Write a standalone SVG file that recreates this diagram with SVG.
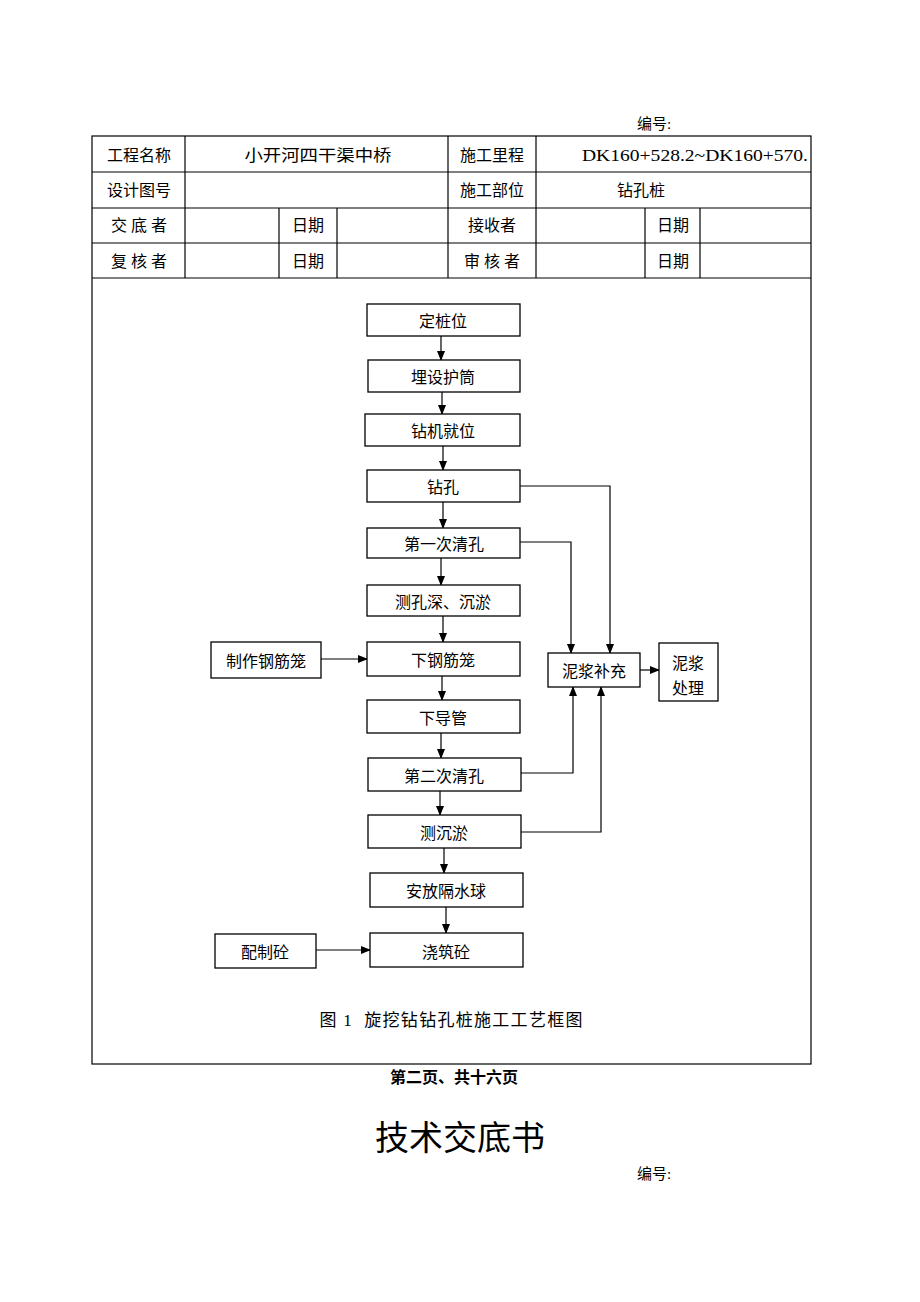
<svg xmlns="http://www.w3.org/2000/svg" width="920" height="1302" viewBox="0 0 920 1302">
<style>
.t{font-family:"Liberation Serif","Noto Sans CJK SC",serif;font-size:16px;fill:#000;text-anchor:middle;dominant-baseline:central}
.b{font-family:"Liberation Serif","Noto Sans CJK SC",serif;font-size:16px;fill:#000;text-anchor:middle;dominant-baseline:central}
.box{fill:#fff;stroke:#000;stroke-width:1.3}
.ln{fill:none;stroke:#000;stroke-width:1.2}
.cn{fill:none;stroke:#000;stroke-width:1.2;marker-end:url(#ah)}
</style>
<defs>
<marker id="ah" markerWidth="10" markerHeight="8" refX="9" refY="4" orient="auto" markerUnits="userSpaceOnUse">
<path d="M0,0 L10,4 L0,8 Z" fill="#000"/>
</marker>
</defs>
<rect width="920" height="1302" fill="#fff"/>
<text class="t" x="654" y="124" style="font-size:15px">编号:</text>

<g id="table">
<rect class="ln" x="92" y="136" width="719" height="928" stroke-width="1.5"/>
<line class="ln" x1="92" y1="172" x2="811" y2="172"/>
<line class="ln" x1="92" y1="208" x2="811" y2="208"/>
<line class="ln" x1="92" y1="243" x2="811" y2="243"/>
<line class="ln" x1="92" y1="278" x2="811" y2="278"/>
<line class="ln" x1="185" y1="136" x2="185" y2="278"/>
<line class="ln" x1="448" y1="136" x2="448" y2="278"/>
<line class="ln" x1="536" y1="136" x2="536" y2="278"/>
<line class="ln" x1="279" y1="208" x2="279" y2="278"/>
<line class="ln" x1="337" y1="208" x2="337" y2="278"/>
<line class="ln" x1="645" y1="208" x2="645" y2="278"/>
<line class="ln" x1="700" y1="208" x2="700" y2="278"/>
<text class="t" x="139" y="155">工程名称</text>
<text class="t" x="318" y="155" textLength="147" lengthAdjust="spacingAndGlyphs">小开河四干渠中桥</text>
<text class="t" x="492" y="155">施工里程</text>
<text class="t" x="695" y="155" textLength="226" lengthAdjust="spacingAndGlyphs">DK160+528.2~DK160+570.</text>
<text class="t" x="139" y="190">设计图号</text>
<text class="t" x="492" y="190">施工部位</text>
<text class="t" x="641" y="190">钻孔桩</text>
<text class="t" x="139" y="225">交 底 者</text>
<text class="t" x="308" y="225">日期</text>
<text class="t" x="492" y="225">接收者</text>
<text class="t" x="673" y="225">日期</text>
<text class="t" x="139" y="261">复 核 者</text>
<text class="t" x="308" y="261">日期</text>
<text class="t" x="492" y="261">审 核 者</text>
<text class="t" x="673" y="261">日期</text>
</g>

<g id="connectors">
<line class="cn" x1="441" y1="336" x2="441" y2="360"/>
<line class="cn" x1="442" y1="392" x2="442" y2="414"/>
<line class="cn" x1="443" y1="446" x2="443" y2="470"/>
<line class="cn" x1="443" y1="502" x2="443" y2="528"/>
<line class="cn" x1="441" y1="558" x2="441" y2="585"/>
<line class="cn" x1="443" y1="616" x2="443" y2="642"/>
<line class="cn" x1="442" y1="676" x2="442" y2="700"/>
<line class="cn" x1="441" y1="733" x2="441" y2="758"/>
<line class="cn" x1="440" y1="791" x2="440" y2="815"/>
<line class="cn" x1="444" y1="848" x2="444" y2="873"/>
<line class="cn" x1="446" y1="907" x2="446" y2="933"/>
<line class="cn" x1="321" y1="659" x2="367" y2="659"/>
<line class="cn" x1="316" y1="950" x2="370" y2="950"/>
<polyline class="cn" points="520,486 610,486 610,653"/>
<polyline class="cn" points="520,542 571,542 571,653"/>
<polyline class="cn" points="521,773 573,773 573,687"/>
<polyline class="cn" points="521,832 601,832 601,687"/>
<line class="cn" x1="640" y1="670" x2="659" y2="670"/>
</g>

<g id="n1"><rect class="box" x="367" y="304" width="153" height="32"/><text class="b" x="443" y="321">定桩位</text></g>
<g id="n2"><rect class="box" x="368" y="360" width="152" height="32"/><text class="b" x="443" y="377">埋设护筒</text></g>
<g id="n3"><rect class="box" x="365" y="414" width="155" height="32"/><text class="b" x="443" y="431">钻机就位</text></g>
<g id="n4"><rect class="box" x="367" y="470" width="153" height="32"/><text class="b" x="443" y="487">钻孔</text></g>
<g id="n5"><rect class="box" x="367" y="528" width="153" height="30"/><text class="b" x="444" y="544">第一次清孔</text></g>
<g id="n6"><rect class="box" x="367" y="585" width="153" height="31"/><text class="b" x="443" y="602">测孔深、沉淤</text></g>
<g id="n7"><rect class="box" x="367" y="642" width="153" height="34"/><text class="b" x="443" y="660">下钢筋笼</text></g>
<g id="n8"><rect class="box" x="367" y="700" width="153" height="33"/><text class="b" x="443" y="718">下导管</text></g>
<g id="n9"><rect class="box" x="368" y="758" width="153" height="33"/><text class="b" x="444" y="776">第二次清孔</text></g>
<g id="n10"><rect class="box" x="368" y="815" width="153" height="33"/><text class="b" x="444" y="833">测沉淤</text></g>
<g id="n11"><rect class="box" x="370" y="873" width="153" height="34"/><text class="b" x="446" y="891">安放隔水球</text></g>
<g id="n12"><rect class="box" x="370" y="933" width="153" height="34"/><text class="b" x="446" y="952">浇筑砼</text></g>
<g id="n13"><rect class="box" x="211" y="642" width="110" height="36"/><text class="b" x="266" y="661">制作钢筋笼</text></g>
<g id="n14"><rect class="box" x="215" y="934" width="101" height="34"/><text class="b" x="265" y="952">配制砼</text></g>
<g id="n15"><rect class="box" x="548" y="653" width="92" height="34"/><text class="b" x="594" y="671">泥浆补充</text></g>
<g id="n16"><rect class="box" x="659" y="643" width="59" height="58"/><text class="b" x="688" y="663">泥浆</text><text class="b" x="688" y="688">处理</text></g>

<text class="t" x="451" y="1020" style="font-size:17px" textLength="263" lengthAdjust="spacing" xml:space="preserve">图 1  旋挖钻钻孔桩施工工艺框图</text>
<text class="t" x="454" y="1077" style="font-size:16px;font-family:'Liberation Sans','Noto Sans CJK SC',sans-serif;font-weight:bold">第二页、共十六页</text>
<text class="t" x="460" y="1138" style="font-size:34px;font-family:'Liberation Sans','Noto Sans CJK SC',sans-serif">技术交底书</text>
<text class="t" x="654" y="1174" style="font-size:15px">编号:</text>
</svg>
